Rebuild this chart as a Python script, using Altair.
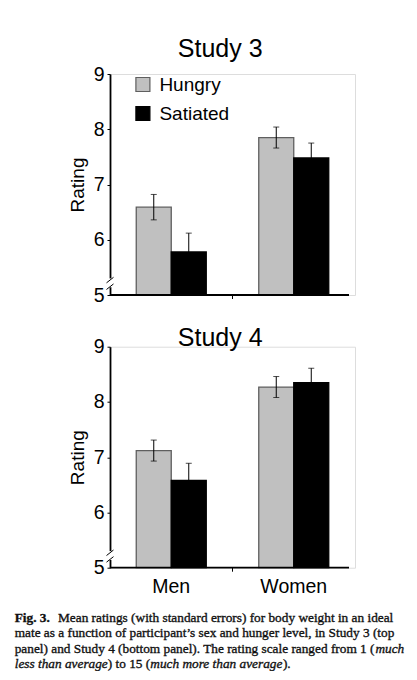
import altair as alt
import pandas as pd

# ---- data ----
sex = ["Men", "Men", "Women", "Women"]
hunger = ["Hungry", "Satiated", "Hungry", "Satiated"]
study3_mean = [6.59, 5.78, 7.85, 7.48]
study3_se = [0.23, 0.34, 0.19, 0.27]
study4_mean = [7.12, 6.58, 8.27, 8.35]
study4_se = [0.19, 0.31, 0.19, 0.26]
y_ticks = [5, 6, 7, 8, 9]
groups = ["Hungry", "Satiated"]
titles = ["Study 3", "Study 4"]

caption_bold = "Fig. 3."
caption_l1 = "Mean ratings (with standard errors) for body weight in an ideal"
caption_l2 = "mate as a function of participant\u2019s sex and hunger level, in Study 3 (top"
caption_l3 = "panel) and Study 4 (bottom panel). The rating scale ranged from 1 ("
caption_l3i = "much"
caption_l4i1 = "less than average"
caption_l4r1 = ") to 15 ("
caption_l4i2 = "much more than average"
caption_l4r2 = ")."

W = 245
H = 221
SANS = "Liberation Sans"
SERIF = "Liberation Serif"
one = pd.DataFrame({"k": [0]})


def frame(mean, se):
    return pd.DataFrame({
        "sex": sex,
        "hunger": hunger,
        "mean": mean,
        "lo": [m - s for m, s in zip(mean, se)],
        "hi": [m + s for m, s in zip(mean, se)],
    })


def panel(mean, se, title, bottom):
    df = frame(mean, se)
    base = alt.Chart(df)
    x = alt.X("sex:N", title=None, sort=["Men", "Women"],
              scale=alt.Scale(paddingInner=0, paddingOuter=0),
              axis=alt.Axis(domain=False, ticks=False, tickSize=0, labels=bottom,
                            labelFont=SANS, labelFontSize=19.5, labelColor="black",
                            labelPadding=9.6, labelAngle=0))
    xo = alt.XOffset("hunger:N", sort=groups,
                     scale=alt.Scale(paddingInner=0, paddingOuter=0.75))
    yscale = alt.Scale(domain=[5, 9], nice=False, zero=False)
    yaxis = alt.Axis(values=y_ticks, format="d", grid=False,
                     title="Rating", titleFont=SANS, titleFontSize=19,
                     titleFontWeight="normal", titleColor="black",
                     titleAngle=270, titleX=-33, titleY=H / 2,
                     titleAlign="center", titleBaseline="middle",
                     labelFont=SANS, labelFontSize=19.5, labelColor="black",
                     labelPadding=3, tickSize=3, tickColor="black", tickWidth=1,
                     domainColor="black", domainWidth=1.8)
    legend = None
    if not bottom:
        legend = alt.Legend(title=None, orient="none", legendX=23.4, legendY=1,
                            direction="vertical", symbolType="square",
                            symbolSize=196, symbolStrokeColor="#444444",
                            symbolStrokeWidth=1.2, symbolOpacity=1,
                            labelFont=SANS, labelFontSize=19, labelColor="black",
                            labelOffset=7, rowPadding=9, padding=0)
    bars = base.mark_bar(strokeWidth=1.3, opacity=1).encode(
        x=x, xOffset=xo,
        y=alt.Y("mean:Q", scale=yscale, axis=yaxis, title="Rating"),
        y2=alt.datum(5),
        color=alt.Color("hunger:N", scale=alt.Scale(domain=groups, range=["#c0c0c0", "#000000"]),
                        legend=legend),
        stroke=alt.Stroke("hunger:N", scale=alt.Scale(domain=groups, range=["#5f5f5f", "#000000"]),
                          legend=None),
    )
    err = base.mark_rule(color="black", strokeWidth=1).encode(
        x=x, xOffset=xo, y=alt.Y("lo:Q", title="Rating"), y2="hi:Q")
    cap_hi = base.mark_tick(color="black", thickness=1, size=6, orient="horizontal").encode(
        x=x, xOffset=xo, y=alt.Y("hi:Q", title="Rating"))
    cap_lo = base.mark_tick(color="black", thickness=1, size=6, orient="horizontal").encode(
        x=x, xOffset=xo, y=alt.Y("lo:Q", title="Rating"))

    c1 = alt.Chart(one)
    xline = c1.mark_rule(color="black", strokeWidth=1.8).encode(
        x=alt.value(0), x2=alt.value(239), y=alt.datum(5))
    midtick = c1.mark_rule(color="black", strokeWidth=1).encode(
        x=alt.value(W / 2), y=alt.value(H), y2=alt.value(H + 4))
    gap = c1.mark_rect(color="white").encode(
        x=alt.value(-3), x2=alt.value(3), y=alt.datum(5.14), y2=alt.datum(5.3))
    brk1 = c1.mark_rule(color="black", strokeWidth=1).encode(
        x=alt.value(-3.5), x2=alt.value(3.5), y=alt.datum(5.1), y2=alt.datum(5.2))
    brk2 = c1.mark_rule(color="black", strokeWidth=1).encode(
        x=alt.value(-3.5), x2=alt.value(3.5), y=alt.datum(5.22), y2=alt.datum(5.32))
    ttl = c1.mark_text(text=title, font=SANS, fontSize=25, align="center",
                       baseline="alphabetic", color="black").encode(
        x=alt.value(110.2), y=alt.value(-16.6 if not bottom else -1))

    layers = [bars, err, cap_hi, cap_lo, xline, midtick, gap, brk1, brk2, ttl]

    if not bottom:
        anchor = c1.mark_rule(opacity=0, strokeWidth=0).encode(
            x=alt.value(-101.3), x2=alt.value(-101.3), y=alt.value(-65.3), y2=alt.value(-60))
        layers.append(anchor)
    else:
        def seg(txt, px, py, weight="normal", style="normal"):
            return c1.mark_text(text=txt, font=SERIF, fontSize=13.3, fontWeight=weight,
                                fontStyle=style, align="left", baseline="alphabetic",
                                color="#111111", stroke="#111111",
                                strokeWidth=0.35).encode(x=alt.value(px), y=alt.value(py))
        layers += [
            seg(caption_bold, -95.3, 275, weight="bold"),
            seg(caption_l1, -52, 275),
            seg(caption_l2, -95.3, 290.5),
            seg(caption_l3, -95.3, 306),
            seg(caption_l3i, 265.4, 306, style="italic"),
            seg(caption_l4i1, -95.3, 321.5, style="italic"),
            seg(caption_l4r1, -2.2, 321.5),
            seg(caption_l4i2, 40.3, 321.5, style="italic"),
            seg(caption_l4r2, 172.9, 321.5),
        ]
    return alt.layer(*layers).properties(width=W, height=H)


top = panel(study3_mean, study3_se, titles[0], bottom=False)
bot = panel(study4_mean, study4_se, titles[1], bottom=True)

chart = alt.vconcat(top, bot, spacing=51.7, bounds="flush").properties(
    padding=0
).configure_view(stroke=None).configure(font=SANS)

chart.save("out.html", embed_options={"renderer": "svg", "actions": False})
